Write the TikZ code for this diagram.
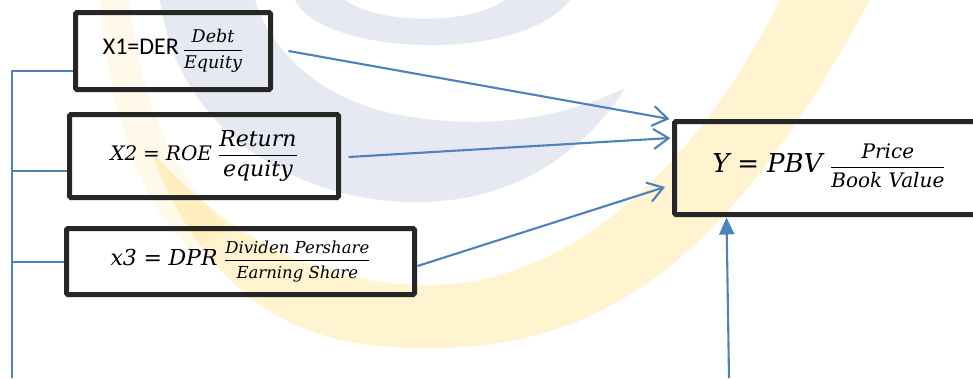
\documentclass[tikz,border=0pt]{standalone}
\usepackage{amsmath}
\usepackage{fontspec}
\newfontfamily\calibri{Carlito}
\newfontfamily\cam{DejaVu Serif}
\usetikzlibrary{arrows.meta,calc}
\definecolor{lineblue}{RGB}{79,129,189}
\definecolor{wmgrey}{RGB}{130,148,188}
\definecolor{wmyellow}{RGB}{255,205,40}
\newcommand\myfrac[3]{{\fontsize{#1}{#1}\selectfont$\displaystyle\genfrac{}{}{1.5pt}{0}{\hbox{\cam\itshape #2}}{\hbox{\cam\itshape #3}}$}}
\newcommand\myeq[3]{{\cam\fontsize{#1}{#1}\selectfont\itshape #2\hspace{0.3em}{\upshape=}\hspace{0.3em}#3\hspace{0.3em}}}
\begin{document}
\begin{tikzpicture}[x=1pt,y=-1pt,
  box/.style={draw=black!85,line width=5pt,rounded corners=1.5pt,inner sep=0pt,align=center},
  conn/.style={draw=lineblue,line width=2.1pt},
  arr/.style={conn,-{Straight Barb[length=15pt,width=20pt,line width=2.1pt]}},
  tri/.style={conn,-{Triangle[length=17pt,width=15pt]}},
  wmg/.style={fill=wmgrey,fill opacity=0.2,draw=none},
  wmy/.style={fill=wmyellow,fill opacity=0.22,draw=none}
]
\useasboundingbox (0,0) rectangle (973,378);
\fill[white] (0,0) rectangle (973,378);
% watermark
\path[wmy,fill opacity=0.1] (100,0) .. controls (110,120) and (140,200) .. (190,250)
  -- (230,230) .. controls (170,170) and (140,100) .. (130,0) -- cycle;
\path[wmy] (150,150) .. controls (220,330) and (330,350) .. (440,348)
  .. controls (620,345) and (740,240) .. (870,0) -- (780,0)
  .. controls (690,180) and (560,285) .. (430,285)
  .. controls (320,285) and (230,240) .. cycle;
\path[wmg] (160,0) .. controls (180,150) and (330,215) .. (450,200)
  .. controls (540,190) and (600,130) .. (625,88)
  .. controls (560,120) and (480,130) .. (400,115)
  .. controls (320,100) and (270,50) .. (255,0) -- cycle;
\path[wmg] (295,0) .. controls (320,55) and (520,65) .. (570,0) -- (505,0)
  .. controls (470,25) and (380,25) .. (345,0) -- cycle;
% boxes
\node[box,minimum width=195pt,minimum height=77pt] (b1) at (173,51)
  {{\calibri\fontsize{24}{28}\selectfont X1=DER\,}\myfrac{17.5}{Debt}{Equity}};
\node[box,minimum width=269pt,minimum height=83pt] (b2) at (204,156)
  {\myeq{20}{X2}{ROE}\myfrac{22}{Return}{equity}};
\node[box,minimum width=348pt,minimum height=66pt] (b3) at (240.5,261.5)
  {\myeq{22}{x3}{DPR}\myfrac{16.5}{Dividen Pershare}{Earning Share}};
\node[box,minimum width=320pt,minimum height=93pt] (yb) at (834.5,168) {};
\node[inner sep=0pt] (yt) at (829,166)
  {\myeq{26}{Y}{PBV}\myfrac{20}{Price}{Book Value}};
% left bracket
\coordinate (t1) at (12,71);
\coordinate (t2) at (12,171);
\coordinate (t3) at (12,262);
\coordinate (tb) at (12,378);
\draw[conn] (tb) -- (t1) -- (t1 -| b1.west);
\draw[conn] (t2) -- (t2 -| b2.west);
\draw[conn] (t3) -- (t3 -| b3.west);
% arrows
\draw[arr] ($(b1.east)+(15.5,0)$) -- ($(yb.north west)+(-2.5,0)$);
\draw[arr] ($(b2.east)+(7.5,1)$) -- ($(yb.north west)+(-1.5,19)$);
\draw[arr] ($(b3.east)+(0.5,4.5)$) -- ($(yb.north west)+(-7,68)$);
\coordinate (vb) at (729,378);
\draw[tri] (vb) -- ($(yb.south west)+(54.5,0.5)$);
\end{tikzpicture}
\end{document}
